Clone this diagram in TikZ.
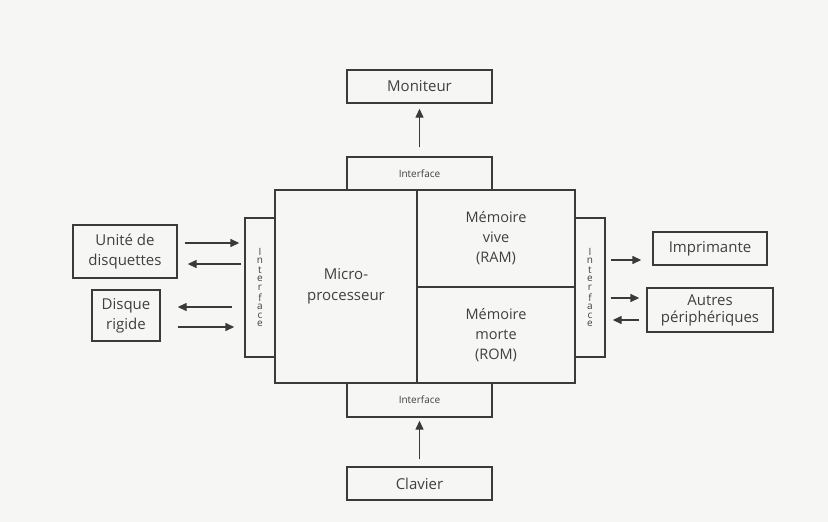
\documentclass[tikz,border=0pt]{standalone}
\usepackage{fontspec}
\setmainfont{Open Sans}
\usetikzlibrary{arrows.meta}
\definecolor{ink}{HTML}{3A3A3A}
\definecolor{txt}{HTML}{404040}
\definecolor{paper}{HTML}{F6F6F4}
\tikzset{
  box/.style={draw=ink, line width=1.4pt, text=txt, align=center, inner sep=0pt, font=\fontsize{15}{17}\selectfont},
  ibox/.style={box, font=\fontsize{10}{12}\selectfont},
  vbox/.style={box, font=\fontsize{10}{12.4}\selectfont},
  arr/.style={draw=ink, line width=1.4pt, -{Triangle[length=9pt,width=8pt]}},
}
\newcommand{\vword}{\shortstack{I\\n\\t\\e\\r\\f\\a\\c\\e}}
\begin{document}
\begin{tikzpicture}[x=1pt,y=-1pt]
\fill[paper] (0,0) rectangle (828,522);
\useasboundingbox (0,0) rectangle (828,522);
% central nodes
\node[box, minimum width=145, minimum height=33] (mon) at (419.5,86.5) {Moniteur};
\node[ibox, minimum width=145, minimum height=33] (itop) at (419.5,173.5) {Interface};
\node[box, minimum width=142, minimum height=193, font=\fontsize{15}{21}\selectfont] (cpu) at (346,286.5) {Micro-\\processeur};
\node[box, minimum width=158, minimum height=97, font=\fontsize{14.5}{20}\selectfont] (ram) at (496,238.5) {Mémoire\\vive\\(RAM)};
\node[box, minimum width=158, minimum height=96, font=\fontsize{14.5}{20}\selectfont] (rom) at (496,335) {Mémoire\\morte\\(ROM)};
\node[ibox, minimum width=145, minimum height=34] (ibot) at (419.5,400) {Interface};
\node[box, minimum width=145, minimum height=33] (clav) at (419.5,483.5) {Clavier};
% side interfaces
\node[vbox, minimum width=30, minimum height=139] (ileft) at (260,287.5) {\vword};
\node[vbox, minimum width=30, minimum height=139] (iright) at (590,287.5) {\vword};
% peripherals
\node[box, minimum width=104, minimum height=53, font=\fontsize{15}{20}\selectfont] (disq) at (125,251.5) {Unité de\\disquettes};
\node[box, minimum width=68, minimum height=51, font=\fontsize{15}{20}\selectfont] (dur) at (126,315.5) {Disque\\rigide};
\node[box, minimum width=114, minimum height=33] (imp) at (710,248.5) {Imprimante};
\node[box, minimum width=126, minimum height=44, font=\fontsize{15}{17}\selectfont] (aut) at (710,310) {Autres\\périphériques};
% arrows
\draw[arr] ([yshift=9]itop.north) -- ([yshift=-5]mon.south);
\draw[arr] ([yshift=7]clav.north) -- ([yshift=-3]ibot.south);
\draw[arr] ([xshift=7]disq.east |- 0,243) -- ([xshift=-5]ileft.west |- 0,243);
\draw[arr] ([xshift=-3]ileft.west |- 0,264) -- ([xshift=10]disq.east |- 0,264);
\draw[arr] ([xshift=-12]ileft.west |- 0,307) -- ([xshift=17]dur.east |- 0,307);
\draw[arr] ([xshift=17]dur.east |- 0,327) -- ([xshift=-10]ileft.west |- 0,327);
\draw[arr] ([xshift=5]iright.east |- 0,260) -- ([xshift=-11]imp.west |- 0,260);
\draw[arr] ([xshift=5]iright.east |- 0,298) -- ([xshift=-7]aut.west |- 0,298);
\draw[arr] ([xshift=-7]aut.west |- 0,320) -- ([xshift=7]iright.east |- 0,320);
\end{tikzpicture}
\end{document}
